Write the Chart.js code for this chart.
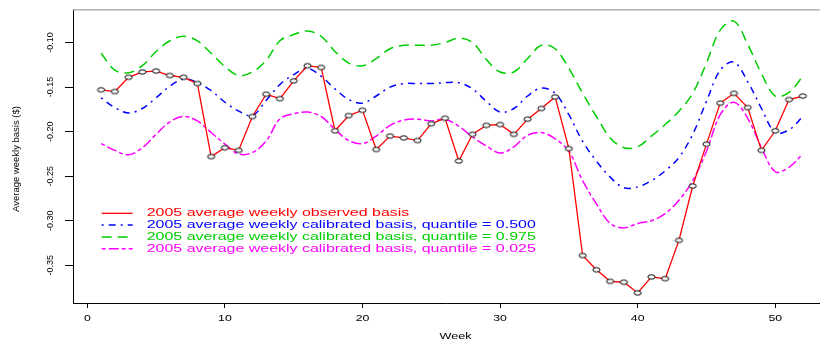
<!DOCTYPE html>
<html>
<head>
<meta charset="utf-8">
<script src="https://cdn.jsdelivr.net/npm/chart.js@4.4.1/dist/chart.umd.min.js"></script>
<style>
  html, body { margin: 0; padding: 0; background: #fff; }
  canvas { display: block; }
</style>
</head>
<body>
<canvas id="chart" width="825" height="347"></canvas>
<script>
// Weekly basis, 2005
const weeks = [1,2,3,4,5,6,7,8,9,10,11,12,13,14,15,16,17,18,19,20,21,22,23,24,25,26,
               27,28,29,30,31,32,33,34,35,36,37,38,39,40,41,42,43,44,45,46,47,48,49,50,51,52];

const observed = [-0.153,-0.155,-0.139,-0.133,-0.132,-0.137,-0.139,-0.146,-0.228,-0.218,-0.221,-0.183,-0.158,
                  -0.163,-0.143,-0.126,-0.128,-0.199,-0.182,-0.176,-0.220,-0.205,-0.207,-0.210,-0.191,-0.185,
                  -0.233,-0.203,-0.193,-0.192,-0.203,-0.186,-0.174,-0.161,-0.219,-0.339,-0.355,-0.368,-0.369,
                  -0.381,-0.363,-0.365,-0.322,-0.261,-0.214,-0.168,-0.157,-0.173,-0.221,-0.199,-0.164,-0.160];

const q500 = [-0.162,-0.173,-0.179,-0.174,-0.162,-0.149,-0.141,-0.145,-0.154,-0.167,-0.177,-0.182,-0.165,
              -0.147,-0.136,-0.129,-0.138,-0.152,-0.164,-0.168,-0.160,-0.150,-0.146,-0.146,-0.146,-0.145,
              -0.145,-0.152,-0.166,-0.178,-0.174,-0.160,-0.151,-0.157,-0.181,-0.211,-0.233,-0.251,-0.263,
              -0.262,-0.255,-0.244,-0.229,-0.203,-0.166,-0.131,-0.122,-0.144,-0.174,-0.201,-0.198,-0.183];

const q975 = [-0.112,-0.131,-0.134,-0.126,-0.110,-0.098,-0.093,-0.098,-0.112,-0.127,-0.137,-0.133,-0.120,
              -0.098,-0.091,-0.087,-0.093,-0.110,-0.123,-0.126,-0.118,-0.107,-0.103,-0.103,-0.103,-0.100,
              -0.095,-0.100,-0.119,-0.133,-0.133,-0.118,-0.103,-0.107,-0.129,-0.157,-0.183,-0.207,-0.218,
              -0.217,-0.205,-0.192,-0.177,-0.157,-0.123,-0.086,-0.076,-0.102,-0.135,-0.160,-0.156,-0.138];

const q025 = [-0.2135,-0.221,-0.226,-0.218,-0.203,-0.189,-0.183,-0.188,-0.201,-0.214,-0.225,-0.2235,-0.2105,
              -0.1855,-0.180,-0.178,-0.183,-0.1975,-0.210,-0.2135,-0.205,-0.193,-0.187,-0.186,-0.188,-0.186,
              -0.194,-0.206,-0.216,-0.224,-0.217,-0.204,-0.201,-0.208,-0.222,-0.255,-0.281,-0.303,-0.308,
              -0.303,-0.300,-0.292,-0.277,-0.255,-0.222,-0.181,-0.167,-0.185,-0.218,-0.245,-0.240,-0.225];

const xTicks = [0, 10, 20, 30, 40, 50];
const yTicks = [-0.35, -0.30, -0.25, -0.20, -0.15, -0.10];
const yTickLabels = ['-0.35', '-0.30', '-0.25', '-0.20', '-0.15', '-0.10'];

const xTitle = 'Week';
const yTitle = 'Average weekly basis ($)';

const seriesNames = [
  '2005 average weekly observed basis',
  '2005 average weekly calibrated basis, quantile = 0.500',
  '2005 average weekly calibrated basis, quantile = 0.975',
  '2005 average weekly calibrated basis, quantile = 0.025'
];

const RED = '#ff0000', BLUE = '#0000ff', GREEN = '#00cd00', MAGENTA = '#ff00ff';
const DASH_BLUE = [2, 5, 7, 5];
const DASH_GREEN = [10, 6];
const DASH_MAGENTA = [4, 3, 10, 3];

const toPoints = vals => weeks.map((w, i) => ({ x: w, y: vals[i] }));

// hollow elliptical marker for the observed series
function ellipseMarker() {
  const c = document.createElement('canvas');
  c.width = 11; c.height = 8;
  const g = c.getContext('2d');
  g.beginPath();
  g.ellipse(5.5, 4, 3.6, 2.2, 0, 0, Math.PI * 2);
  g.fillStyle = '#ffffff';
  g.fill();
  g.lineWidth = 1;
  g.strokeStyle = '#000000';
  g.stroke();
  return c;
}

// text drawn with a horizontal stretch factor
function wideText(ctx, text, x, y, size, color, sx, align) {
  ctx.save();
  ctx.font = size + 'px "Liberation Sans", Arial, sans-serif';
  ctx.fillStyle = color;
  ctx.textBaseline = 'middle';
  ctx.textAlign = align;
  ctx.translate(x, y);
  ctx.scale(sx, 1);
  ctx.fillText(text, 0, 0);
  ctx.restore();
}

const decorations = {
  id: 'decorations',
  afterDraw(chart) {
    const ctx = chart.ctx;
    const area = chart.chartArea;

    // grey top frame line
    ctx.save();
    ctx.strokeStyle = '#a0a0a0';
    ctx.lineWidth = 1.3;
    ctx.beginPath();
    ctx.moveTo(area.left, area.top + 0.5);
    ctx.lineTo(area.right, area.top + 0.5);
    ctx.stroke();
    ctx.restore();

    // x tick labels
    const xs = chart.scales.x;
    xs.ticks.forEach(t => {
      wideText(ctx, String(t.label), xs.getPixelForValue(t.value), 318.5, 8.5, '#000', 1.45, 'center');
    });

    // axis titles
    wideText(ctx, xTitle, 455.5, 336, 9.3, '#000', 1.36, 'center');
    ctx.save();
    ctx.font = '9.5px "Liberation Sans", Arial, sans-serif';
    ctx.fillStyle = '#000';
    ctx.textAlign = 'center';
    ctx.textBaseline = 'middle';
    ctx.translate(16.2, 159);
    ctx.rotate(-Math.PI / 2);
    ctx.fillText(yTitle, 0, 0);
    ctx.restore();

    // legend
    const colors = [RED, BLUE, GREEN, MAGENTA];
    const dashes = [[], DASH_BLUE, DASH_GREEN, DASH_MAGENTA];
    const widths = [1.3, 1.5, 1.5, 1.5];
    seriesNames.forEach((name, i) => {
      const y = 213.3 + i * 11.8;
      ctx.save();
      ctx.strokeStyle = colors[i];
      ctx.lineWidth = widths[i];
      ctx.setLineDash(dashes[i]);
      ctx.beginPath();
      ctx.moveTo(101.7, y);
      ctx.lineTo(132.7, y);
      ctx.stroke();
      ctx.restore();
      wideText(ctx, name, 146.7, y, 10.5, colors[i], 1.52, 'left');
    });
  }
};

new Chart(document.getElementById('chart'), {
  type: 'line',
  data: {
    datasets: [
      {
        data: toPoints(observed),
        borderColor: RED,
        borderWidth: 1.3,
        tension: 0,
        pointStyle: ellipseMarker(),
        pointRadius: 3
      },
      {
        data: toPoints(q500),
        borderColor: BLUE,
        borderWidth: 1.5,
        borderDash: DASH_BLUE,
        tension: 0.35,
        pointRadius: 0
      },
      {
        data: toPoints(q975),
        borderColor: GREEN,
        borderWidth: 1.5,
        borderDash: DASH_GREEN,
        tension: 0.35,
        pointRadius: 0
      },
      {
        data: toPoints(q025),
        borderColor: MAGENTA,
        borderWidth: 1.5,
        borderDash: DASH_MAGENTA,
        tension: 0.35,
        pointRadius: 0
      }
    ]
  },
  options: {
    responsive: false,
    animation: false,
    devicePixelRatio: 1,
    layout: { padding: { top: 7, left: 0, right: 0, bottom: 0 } },
    plugins: { legend: { display: false }, tooltip: { enabled: false } },
    scales: {
      x: {
        type: 'linear',
        min: -1.04,
        max: 53.23,
        afterBuildTicks: s => { s.ticks = xTicks.map(v => ({ value: v })); },
        afterFit: s => { s.height = 44; },
        grid: { drawOnChartArea: false, drawTicks: true, tickLength: 5, tickWidth: 1, tickColor: '#000' },
        border: { display: true, color: '#000', width: 1 },
        ticks: { display: false, autoSkip: false, callback: v => String(v) }
      },
      y: {
        type: 'linear',
        min: -0.3923,
        max: -0.0628,
        afterBuildTicks: s => { s.ticks = yTicks.map(v => ({ value: v })); },
        afterFit: s => { s.width = 73; },
        grid: { drawOnChartArea: false, drawTicks: true, tickLength: 8, tickWidth: 1, tickColor: '#000' },
        border: { display: true, color: '#000', width: 1 },
        ticks: {
          autoSkip: false,
          minRotation: 90,
          maxRotation: 90,
          crossAlign: 'center',
          padding: 4,
          color: '#000',
          font: { family: '"Liberation Sans", Arial, sans-serif', size: 9 },
          callback: (v, i) => yTickLabels[i]
        }
      }
    }
  },
  plugins: [decorations]
});
</script>
</body>
</html>
